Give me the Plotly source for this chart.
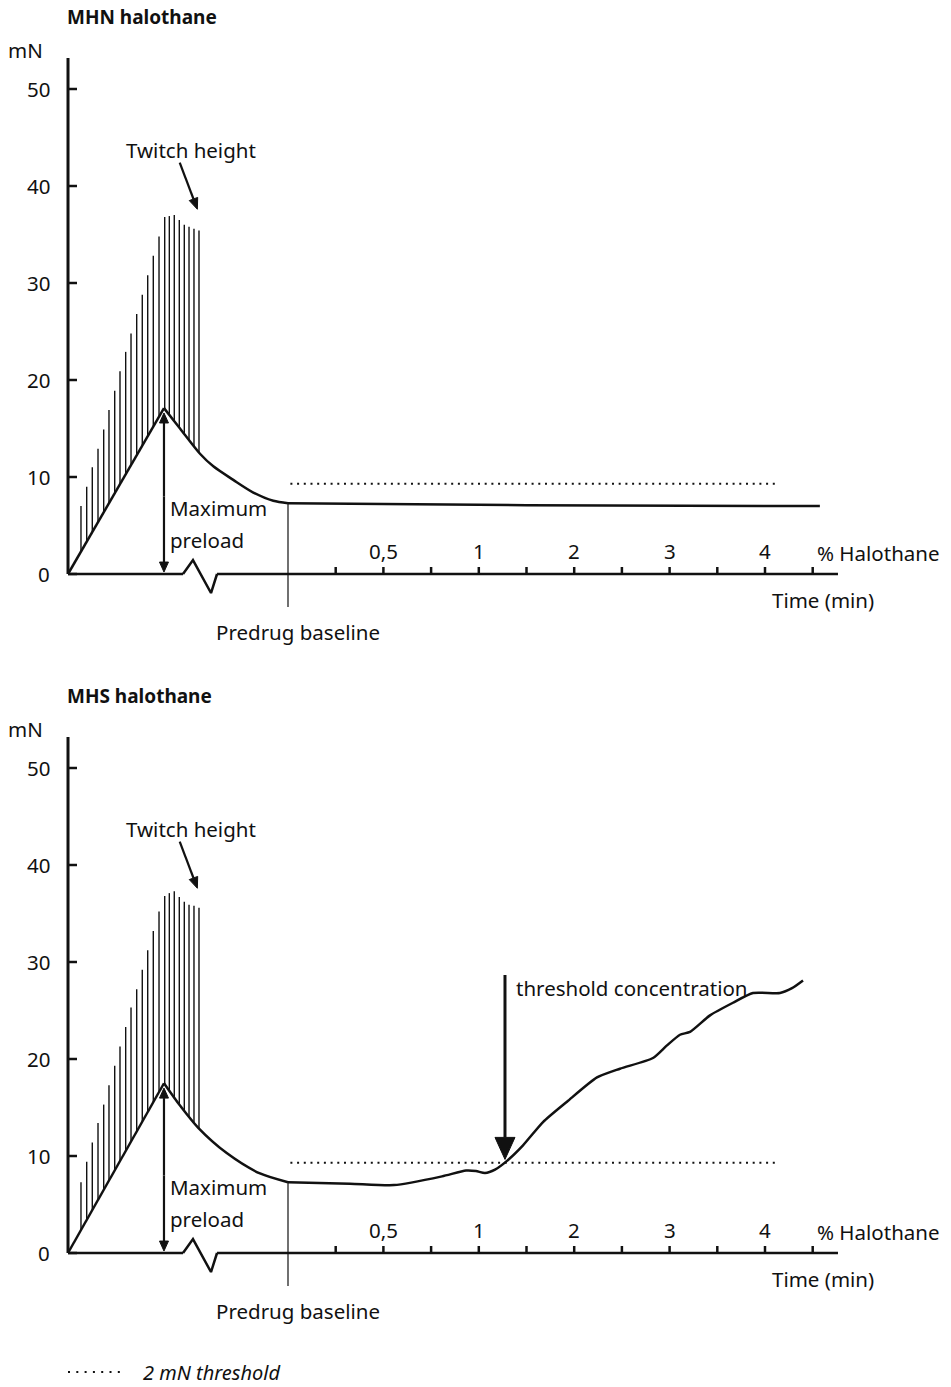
import numpy as np
import plotly.graph_objects as go

# ---------------- data ----------------
# Time runs in axis-tick units with the predrug baseline at 0; force is in mN.
Y_TICK_VALUES = [0, 10, 20, 30, 40, 50]
Y_TICK_LABELS = ["0", "10", "20", "30", "40", "50"]
Y_AXIS_MAX = 53.2
TIME_TICKS = [1, 2, 3, 4, 5, 6, 7, 8, 9, 10, 11]
HALOTHANE_TICKS = [2, 4, 6, 8, 10]
HALOTHANE_LABELS = ["0,5", "1", "2", "3", "4"]
AXIS_T_START = -4.612
AXIS_T_END = 11.53

# zig-zag break in the time axis
axis_break_t = [-2.201, -1.992, -1.614, -1.488]
axis_break_y = [0.0, 1.44, -1.96, 0.0]

# twitch responses during the preload ramp
twitch_t = [-4.340, -4.220, -4.103, -3.983, -3.864, -3.753, -3.633, -3.522,
            -3.403, -3.291, -3.172, -3.055, -2.941, -2.824, -2.704, -2.585,
            -2.488, -2.384, -2.279, -2.174, -2.075, -1.971, -1.866]
twitch_mhn = [7.0, 9.0, 11.0, 12.9, 14.9, 16.9, 18.9, 20.9, 22.9, 24.8, 26.8,
              28.8, 30.8, 32.8, 34.8, 36.8, 36.9, 37.0, 36.5, 36.0, 35.8, 35.6, 35.4]
twitch_mhs = [7.3, 9.4, 11.4, 13.4, 15.3, 17.3, 19.3, 21.3, 23.3, 25.3, 27.2,
              29.2, 31.2, 33.2, 35.2, 36.8, 37.1, 37.3, 36.7, 36.2, 35.9, 35.8, 35.6]

# preload ramp (start of stimulation to maximum preload)
ramp_t = [AXIS_T_START, -2.600]
ramp_mhn = [0.0, 17.1]
ramp_mhs = [0.0, 17.5]

# relaxation to the predrug baseline
decay_t_mhn = [-2.600, -2.264, -1.845, -1.566, -1.147, -0.727, -0.308, 0.0]
decay_mhn = [17.1, 15.0, 12.4, 11.1, 9.7, 8.4, 7.55, 7.3]
decay_t_mhs = [-2.600, -2.264, -1.881, -1.285, -0.587, 0.0]
decay_mhs = [17.5, 15.2, 12.9, 10.3, 8.2, 7.3]

# baseline tension during halothane exposure
halo_t_mhn = [0.0, 5.0, 11.15]
halo_mhn = [7.3, 7.1, 7.0]
halo_t_mhs = [0.0, 1.300, 2.222, 3.229, 3.732, 3.941, 4.130, 4.340, 4.591,
              4.927, 5.346, 5.849, 6.478, 6.960, 7.652, 7.945, 8.218, 8.428,
              8.847, 9.329, 9.748, 10.314, 10.566, 10.797]
halo_mhs = [7.3, 7.15, 7.0, 7.9, 8.5, 8.45, 8.25, 8.6, 9.5, 11.1, 13.5, 15.6,
            18.1, 19.0, 20.1, 21.4, 22.5, 22.8, 24.5, 25.8, 26.8, 26.8, 27.3, 28.1]

PREDRUG_BASELINE = 7.3
THRESHOLD_RISE = 2.0          # mN above the predrug baseline
THRESHOLD_T = [0.05, 10.21]
THRESHOLD_CONC_T = 4.549      # where the contracture crosses the threshold

# ---------------- page geometry ----------------
W, H = 951, 1387
PX_PER_T = 47.7
PX_PER_MN = 9.7
BASELINE_PX = 288            # horizontal pixel of t = 0
ZERO_PX = [574, 1253]        # vertical pixel of 0 mN in each panel
SPLIT_PX = 679

FONT = "Noto Sans"
FONT_SIZE = 20.5
INK = "#111111"

x_range = [-BASELINE_PX / PX_PER_T, (W - BASELINE_PX) / PX_PER_T]
y_ranges = [
    [(ZERO_PX[0] - SPLIT_PX) / PX_PER_MN, ZERO_PX[0] / PX_PER_MN],
    [(ZERO_PX[1] - H) / PX_PER_MN, (ZERO_PX[1] - SPLIT_PX) / PX_PER_MN],
]
split = 1 - SPLIT_PX / H

fig = go.Figure()
annotations = []


def line(xs, ys, panel, width=2.5, shape="linear", dash=None, smoothing=None):
    ln = dict(color=INK, width=width, shape=shape)
    if dash:
        ln["dash"] = dash
    if smoothing is not None:
        ln["smoothing"] = smoothing
    fig.add_trace(go.Scatter(
        x=xs, y=ys, mode="lines", line=ln, hoverinfo="skip", showlegend=False,
        xaxis="x" if panel == 0 else "x2", yaxis="y" if panel == 0 else "y2"))


def arrow(t0, y0, t1, y1, panel, head_len=10, head_w=9, width=2):
    """Straight arrow from (t0, y0) to a solid triangular head at (t1, y1)."""
    dx = (t1 - t0) * PX_PER_T
    dy = (y1 - y0) * PX_PER_MN
    n = np.hypot(dx, dy)
    ux, uy = dx / n, dy / n
    bx, by = -head_len * ux, -head_len * uy
    px, py = -uy * head_w / 2, ux * head_w / 2
    base_t = t1 + bx / PX_PER_T
    base_y = y1 + by / PX_PER_MN
    line([t0, base_t], [y0, base_y], panel, width=width)
    tri_t = [t1, base_t + px / PX_PER_T, base_t - px / PX_PER_T, t1]
    tri_y = [y1, base_y + py / PX_PER_MN, base_y - py / PX_PER_MN, y1]
    fig.add_trace(go.Scatter(
        x=tri_t, y=tri_y, mode="lines", fill="toself", fillcolor=INK,
        line=dict(color=INK, width=1), hoverinfo="skip", showlegend=False,
        xaxis="x" if panel == 0 else "x2", yaxis="y" if panel == 0 else "y2"))


def text(s, t, y, panel, xanchor="left", size=FONT_SIZE, bold=False, italic=False):
    if bold:
        s = f"<b>{s}</b>"
    if italic:
        s = f"<i>{s}</i>"
    annotations.append(dict(
        text=s, x=t, y=y, xref="x" if panel == 0 else "x2",
        yref="y" if panel == 0 else "y2", xanchor=xanchor, yanchor="middle",
        showarrow=False, borderpad=0,
        font=dict(family=FONT, size=size, color=INK)))


panels = [
    dict(title="MHN halothane", twitch=twitch_mhn, ramp=ramp_mhn,
         decay_t=decay_t_mhn, decay=decay_mhn, halo_t=halo_t_mhn, halo=halo_mhn),
    dict(title="MHS halothane", twitch=twitch_mhs, ramp=ramp_mhs,
         decay_t=decay_t_mhs, decay=decay_mhs, halo_t=halo_t_mhs, halo=halo_mhs),
]

for p, d in enumerate(panels):
    # y axis with inward ticks
    line([AXIS_T_START, AXIS_T_START], [0, Y_AXIS_MAX], p, width=3)
    tick_len_t = 9 / PX_PER_T
    for v, lab in zip(Y_TICK_VALUES, Y_TICK_LABELS):
        line([AXIS_T_START, AXIS_T_START + tick_len_t], [v, v], p, width=2.5)
        text(lab, AXIS_T_START - 17 / PX_PER_T, v, p, xanchor="right")
    text("mN", AXIS_T_START - 61 / PX_PER_T, Y_AXIS_MAX + 0.8, p)
    text(d["title"], AXIS_T_START - 2 / PX_PER_T, Y_AXIS_MAX + 4.2, p,
         size=19, bold=True)

    # broken time axis with upward ticks
    line([AXIS_T_START, axis_break_t[0]], [0, 0], p)
    line(axis_break_t, axis_break_y, p)
    line([axis_break_t[-1], AXIS_T_END], [0, 0], p)
    tick_len_mn = 7 / PX_PER_MN
    for t in TIME_TICKS:
        line([t, t], [0, tick_len_mn], p, width=2.5)
    for t, lab in zip(HALOTHANE_TICKS, HALOTHANE_LABELS):
        text(lab, t, 2.35, p, xanchor="center")
    text("% Halothane", 11.06, 2.2, p)
    text("Time (min)", 10.12, -2.7, p)

    # twitch bars rising from the ramp / relaxation trace
    base_t = ramp_t + d["decay_t"][1:]
    base_y = d["ramp"] + d["decay"][1:]
    bx, by = [], []
    for t, top in zip(twitch_t, d["twitch"]):
        bx += [t, t, None]
        by += [float(np.interp(t, base_t, base_y)), top, None]
    line(bx, by, p, width=1.4)

    # preload ramp, relaxation and halothane phase
    line(ramp_t, d["ramp"], p)
    line(d["decay_t"], d["decay"], p, shape="spline", smoothing=0.8)
    line(d["halo_t"], d["halo"], p, shape="spline", smoothing=0.6)

    # predrug baseline marker
    line([0, 0], [-3.4, PREDRUG_BASELINE], p, width=1.2)
    text("Predrug baseline", 0.21, -6.0, p, xanchor="center")

    # 2 mN threshold
    thr = PREDRUG_BASELINE + THRESHOLD_RISE
    line(THRESHOLD_T, [thr, thr], p, width=2, dash="2px,4.7px")

    # annotations for twitch height and maximum preload
    text("Twitch height", -2.034, 43.7, p, xanchor="center")
    arrow(-2.27, 42.4, -1.9, 37.6, p, head_len=11, head_w=9, width=2.2)
    peak = d["ramp"][-1]
    arrow(ramp_t[-1], 8.0, ramp_t[-1], peak - 0.5, p, head_len=10, head_w=9, width=2.2)
    arrow(ramp_t[-1], 8.0, ramp_t[-1], 0.2, p, head_len=10, head_w=9, width=2.2)
    text("Maximum", -2.49, 6.8, p)
    text("preload", -2.49, 3.5, p)

# threshold concentration marker in the MHS panel
cross = float(np.interp(THRESHOLD_CONC_T, halo_t_mhs, halo_mhs))
arrow(THRESHOLD_CONC_T, 28.66, THRESHOLD_CONC_T, cross + 0.3, 1,
      head_len=22, head_w=20, width=3)
text("threshold concentration", 4.76, 27.3, 1)

# key
key_y = (ZERO_PX[1] - 1372) / PX_PER_MN
line([AXIS_T_START, AXIS_T_START + 52 / PX_PER_T], [key_y, key_y], 1,
     width=2, dash="2px,6.3px")
text("2 mN threshold", -3.06, key_y - 0.05, 1, size=20, italic=True)

axis_common = dict(visible=False, showgrid=False, zeroline=False, fixedrange=True)
fig.update_layout(
    width=W, height=H, autosize=False,
    margin=dict(l=0, r=0, t=0, b=0),
    paper_bgcolor="white", plot_bgcolor="white",
    showlegend=False,
    xaxis=dict(domain=[0, 1], range=x_range, anchor="y", **axis_common),
    yaxis=dict(domain=[split, 1], range=y_ranges[0], anchor="x", **axis_common),
    xaxis2=dict(domain=[0, 1], range=x_range, anchor="y2", **axis_common),
    yaxis2=dict(domain=[0, split], range=y_ranges[1], anchor="x2", **axis_common),
    annotations=annotations,
)

fig.write_html("out.html")
